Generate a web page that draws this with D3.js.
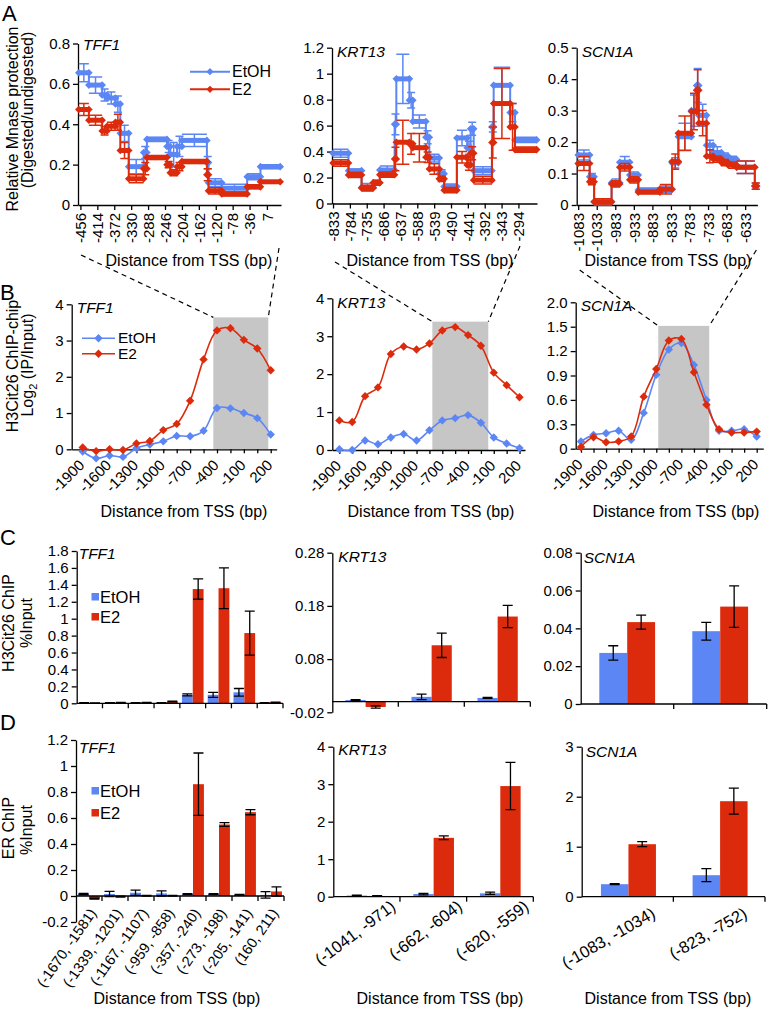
<!DOCTYPE html>
<html><head><meta charset="utf-8">
<script src="https://cdn.jsdelivr.net/npm/d3@7"></script>
<style>
body{margin:0;background:#fff;}
svg{display:block;}
</style></head><body>
<svg id="fig" width="768" height="1012"></svg>
<script>
// ================= DATA =================
const seriesNames = ["EtOH", "E2"];

// Panel A: MNase protection, step segments [startBp, endBp, value, error]
const aTFF1Ticks = [-456,-414,-372,-330,-288,-246,-204,-162,-120,-78,-36,7];
const aTFF1EtOH = [[-460,-435,0.655,0.045],[-435,-402,0.594,0.04],[-402,-390,0.545,0.03],[-390,-369,0.53,0.03],[-369,-357,0.50,0.04],[-357,-336,0.355,0.04],[-336,-299,0.19,0.035],[-299,-291,0.26,0.03],[-291,-241,0.325,0.01],[-241,-233,0.29,0.03],[-233,-216,0.25,0.06],[-216,-204,0.29,0.05],[-204,-142,0.32,0.03],[-142,-138,0.21,0.03],[-138,-105,0.11,0.02],[-105,-42,0.083,0.02],[-42,-9,0.14,0.015],[-9,40,0.19,0.01]];
const aTFF1E2 = [[-460,-435,0.473,0.03],[-435,-402,0.42,0.025],[-402,-390,0.367,0.02],[-390,-369,0.39,0.02],[-369,-357,0.41,0.04],[-357,-336,0.27,0.04],[-336,-299,0.13,0.02],[-299,-291,0.18,0.03],[-291,-241,0.235,0.01],[-241,-233,0.20,0.015],[-233,-216,0.16,0.015],[-216,-204,0.19,0.02],[-204,-142,0.215,0.01],[-142,-138,0.15,0.03],[-138,-105,0.07,0.015],[-105,-42,0.055,0.01],[-42,-9,0.09,0.01],[-9,40,0.115,0.005]];
const aKRT13Ticks = [-833,-784,-735,-686,-637,-588,-539,-490,-441,-392,-343,-294];
const aKRT13EtOH = [[-833,-788,0.387,0.03],[-788,-750,0.253,0.01],[-750,-716,0.124,0.03],[-716,-697,0.16,0.02],[-697,-654,0.258,0.03],[-654,-649,0.61,0.08],[-649,-611,0.96,0.19],[-611,-601,0.795,0.06],[-601,-563,0.632,0.05],[-563,-553,0.51,0.05],[-553,-524,0.35,0.03],[-524,-510,0.23,0.03],[-510,-473,0.13,0.02],[-473,-443,0.505,0.06],[-443,-433,0.43,0.05],[-433,-424,0.575,0.05],[-424,-371,0.253,0.03],[-371,-366,0.59,0.04],[-366,-318,0.91,0.14],[-318,-304,0.70,0.07],[-304,-241,0.49,0.02]];
const aKRT13E2 = [[-833,-788,0.312,0.025],[-788,-750,0.22,0.02],[-750,-716,0.12,0.02],[-716,-697,0.16,0.02],[-697,-654,0.222,0.02],[-654,-649,0.343,0.09],[-649,-611,0.472,0.17],[-611,-601,0.46,0.08],[-601,-563,0.43,0.11],[-563,-553,0.356,0.04],[-553,-524,0.266,0.04],[-524,-510,0.19,0.02],[-510,-473,0.103,0.02],[-473,-443,0.356,0.045],[-443,-433,0.297,0.04],[-433,-424,0.387,0.05],[-424,-371,0.18,0.03],[-371,-366,0.47,0.12],[-366,-318,0.77,0.27],[-318,-304,0.59,0.18],[-304,-241,0.415,0.02]];
const aSCN1ATicks = [-1083,-1033,-983,-933,-883,-833,-783,-733,-683,-633];
const aSCN1AEtOH = [[-1083,-1052,0.159,0.016],[-1052,-1040,0.09,0.01],[-1040,-993,0.01,0.01],[-993,-971,0.071,0.012],[-971,-944,0.136,0.018],[-944,-921,0.095,0.01],[-921,-863,0.048,0.005],[-863,-830,0.05,0.01],[-830,-813,0.134,0.016],[-813,-778,0.217,0.043],[-778,-764,0.30,0.05],[-764,-758,0.38,0.054],[-758,-737,0.285,0.035],[-737,-719,0.19,0.016],[-719,-697,0.167,0.018],[-697,-679,0.155,0.01],[-679,-656,0.145,0.01],[-656,-607,0.12,0.02],[-607,-602,0.06,0.01]];
const aSCN1AE2 = [[-1083,-1052,0.132,0.022],[-1052,-1040,0.074,0.01],[-1040,-993,0.01,0.01],[-993,-971,0.067,0.01],[-971,-944,0.12,0.012],[-944,-921,0.08,0.01],[-921,-863,0.041,0.005],[-863,-830,0.05,0.015],[-830,-813,0.138,0.024],[-813,-778,0.228,0.055],[-778,-764,0.297,0.058],[-764,-758,0.365,0.065],[-758,-737,0.26,0.04],[-737,-719,0.155,0.021],[-719,-697,0.146,0.01],[-697,-679,0.135,0.01],[-679,-656,0.127,0.01],[-656,-607,0.12,0.02],[-607,-602,0.06,0.01]];

// Panel B: H3Cit26 ChIP-chip
const bPositions = [-1900,-1750,-1600,-1450,-1300,-1150,-1000,-850,-700,-550,-400,-250,-100,50,200];
const bTickLabels = [-1900,-1600,-1300,-1000,-700,-400,-100,200];
const bTFF1EtOH = [-0.06,-0.25,-0.17,-0.21,0.03,0.13,0.22,0.37,0.36,0.51,1.14,1.13,1.00,0.86,0.41];
const bTFF1E2 = [0.05,-0.05,0.0,-0.02,0.16,0.23,0.53,0.70,1.34,2.48,3.28,3.34,3.02,2.78,2.18];
const bKRT13EtOH = [0.02,0.0,0.25,0.15,0.33,0.42,0.25,0.52,0.78,0.84,0.92,0.72,0.33,0.17,0.05];
const bKRT13E2 = [0.78,0.74,1.42,1.65,2.53,2.73,2.65,2.81,3.15,3.24,3.03,2.75,2.04,1.71,1.39];
const bSCN1AEtOH = [0.09,0.17,0.19,0.22,0.11,0.44,0.91,1.22,1.30,1.03,0.60,0.22,0.22,0.24,0.15];
const bSCN1AE2 = [0.02,0.14,0.08,0.09,0.15,0.64,0.98,1.33,1.35,0.94,0.54,0.24,0.20,0.20,0.21];
const bTFF1Region = [-441, 173, 3.64];   // [startBp, endBp, top]
const bKRT13Region = [-816, -164, 3.385];
const bSCN1ARegion = [-976, -367, 1.51];
const bSCN1AYTicks = [0,0.3,0.6,0.9,1.2,1.5,1.8];
const bSCN1AYLabels = ["0","0.3","0.6","0.9","1.2","1.5","2.0"];

// Panel C: H3Cit26 ChIP %Input
const tffCats = ["(-1670, -1581)","(-1339, -1201)","(-1167, -1107)","(-959, -858)","(-357, -240)","(-273, -198)","(-205, -141)","(160, 211)"];
const krtCats = ["(-1041, -971)","(-662, -604)","(-620, -559)"];
const scnCats = ["(-1083, -1034)","(-823, -752)"];
const cTFF1EtOH = [0.005,0.005,0.005,0.005,0.10,0.10,0.13,0.005];
const cTFF1EtOHErr = [0.002,0.002,0.002,0.002,0.012,0.03,0.045,0.002];
const cTFF1E2 = [0.004,0.008,0.008,0.02,1.35,1.36,0.83,0.012];
const cTFF1E2Err = [0.002,0.002,0.002,0.004,0.12,0.24,0.26,0.002];
const cKRT13EtOH = [0.003,0.009,0.007];
const cKRT13EtOHErr = [0.001,0.005,0.001];
const cKRT13E2 = [-0.01,0.106,0.16];
const cKRT13E2Err = [0.002,0.023,0.021];
const cSCN1AEtOH = [0.027,0.0385];
const cSCN1AEtOHErr = [0.0038,0.0047];
const cSCN1AE2 = [0.0433,0.0515];
const cSCN1AE2Err = [0.0037,0.011];

// Panel D: ER ChIP %Input
const dTFF1EtOH = [0.015,0.015,0.025,0.02,0.015,0.015,0.01,0.008];
const dTFF1EtOHErr = [0.005,0.02,0.02,0.02,0.003,0.003,0.003,0.025];
const dTFF1E2 = [-0.02,-0.005,0.002,0.002,0.86,0.55,0.645,0.035];
const dTFF1E2Err = [0.003,0.003,0.002,0.002,0.24,0.015,0.02,0.035];
const dKRT13EtOH = [0.03,0.07,0.09];
const dKRT13EtOHErr = [0.01,0.02,0.03];
const dKRT13E2 = [0.02,1.57,2.95];
const dKRT13E2Err = [0.01,0.05,0.63];
const dSCN1AEtOH = [0.25,0.43];
const dSCN1AEtOHErr = [0.01,0.13];
const dSCN1AE2 = [1.05,1.91];
const dSCN1AE2Err = [0.05,0.26];

// ================= DRAWING =================
const BLUE = "#5b86f4", RED = "#dc2b0c", GRAY = "#c6c6c6";
const FONT = '"Liberation Sans", Arial, Helvetica, sans-serif';
const TICK_FS = 15, TITLE_FS = 16, GENE_FS = 15.5, LEG_FS = 16.5;
const svg = d3.select("#fig");
svg.append("rect").attr("width", 768).attr("height", 1012).attr("fill", "#fff");

function diamond(r){ return `M0,${-r}L${r},0L0,${r}L${-r},0Z`; }

function txt(g, x, y, s, o = {}){
  const t = g.append("text").attr("x", x).attr("y", y).text(s)
    .style("font-family", FONT).style("font-size", (o.fs || TITLE_FS) + "px").attr("fill", "#000");
  if (o.anchor) t.attr("text-anchor", o.anchor);
  if (o.italic) t.style("font-style", "italic");
  if (o.rotate) t.attr("transform", `rotate(${o.rotate},${x},${y})`);
  return t;
}

function styleAxis(a, fs){
  a.attr("font-family", null).attr("font-size", null);
  a.select(".domain").attr("stroke", "#000").attr("stroke-width", 1.3);
  a.selectAll(".tick line").attr("stroke", "#000").attr("stroke-width", 1.3);
  a.selectAll(".tick text").attr("fill", "#000").style("font-family", FONT).style("font-size", fs + "px");
}

function yAxis(g, y, x0, ticks, labels){
  const ax = d3.axisLeft(y).tickValues(ticks).tickSize(5).tickSizeOuter(0).tickPadding(3)
    .tickFormat((d, i) => labels ? labels[i] : String(d));
  const a = g.append("g").attr("transform", `translate(${x0},0)`).call(ax);
  styleAxis(a, TICK_FS);
  return a;
}

// ---------- Panel A ----------
function stepPanel(cfg){
  const g = svg.append("g");
  const x = d3.scaleLinear().domain(cfg.xDomain).range(cfg.xRange);
  const y = d3.scaleLinear().domain(cfg.yDomain).range(cfg.yRange);
  yAxis(g, y, cfg.xRange[0], cfg.yTicks);
  const xa = g.append("g").attr("transform", `translate(0,${y(0)})`)
    .call(d3.axisBottom(x).tickValues(cfg.xTicks).tickSize(5).tickSizeOuter(0).tickFormat(d => String(d)));
  styleAxis(xa, TICK_FS);
  xa.selectAll(".tick text").attr("text-anchor", "end").attr("transform", "rotate(-90)")
    .attr("x", -8).attr("y", 0).attr("dy", "0.35em");
  cfg.series.forEach(s => {
    const sg = g.append("g").attr("stroke", s.color).attr("fill", s.color);
    sg.selectAll(".eb").data(s.data).join("path")
      .attr("fill", "none").attr("stroke-width", 1.5)
      .attr("d", d => {
        const xm = (x(d[0]) + x(d[1])) / 2;
        const x0 = Math.min(x(d[0]), xm - 4), x1 = Math.max(x(d[1]), xm + 4);
        const yt = y(d[2] + d[3]), yb = y(d[2] - d[3]);
        return `M${xm},${yb}V${yt}M${x0},${yt}H${x1}M${x0},${yb}H${x1}`;
      });
    sg.selectAll(".cn").data(s.data.slice(1)).join("line")
      .attr("x1", d => x(d[0])).attr("x2", d => x(d[0]))
      .attr("y1", (d, i) => y(s.data[i][2])).attr("y2", d => y(d[2]))
      .attr("stroke-width", 2);
    sg.selectAll(".seg").data(s.data).join("line")
      .attr("x1", d => x(d[0])).attr("x2", d => x(d[1]))
      .attr("y1", d => y(d[2])).attr("y2", d => y(d[2]))
      .attr("stroke-width", 5);
    const ends = s.data.flatMap(d => [[d[0], d[2]], [d[1], d[2]]]);
    sg.selectAll(".mk").data(ends).join("path")
      .attr("d", diamond(3.8)).attr("stroke", "none")
      .attr("transform", d => `translate(${x(d[0])},${y(d[1])})`);
  });
  txt(g, cfg.xRange[0] + 5, cfg.geneY, cfg.gene, {fs: GENE_FS, italic: true});
  txt(g, cfg.titleX, 266, "Distance from TSS (bp)", {anchor: "middle"});
  return {x, y};
}

const aT = stepPanel({xDomain: [-462, 42], xRange: [78, 281], yDomain: [0, 0.8], yRange: [205, 43.5],
  yTicks: [0,0.2,0.4,0.6,0.8], xTicks: aTFF1Ticks, gene: "TFF1", geneY: 50, titleX: 189,
  series: [{data: aTFF1EtOH, color: BLUE}, {data: aTFF1E2, color: RED}]});
const aK = stepPanel({xDomain: [-836, -240], xRange: [332, 537], yDomain: [0, 1.2], yRange: [203.5, 47.7],
  yTicks: [0,0.2,0.4,0.6,0.8,1,1.2], xTicks: aKRT13Ticks, gene: "KRT13", geneY: 57, titleX: 430,
  series: [{data: aKRT13EtOH, color: BLUE}, {data: aKRT13E2, color: RED}]});
const aS = stepPanel({xDomain: [-1087, -600], xRange: [576.7, 757.4], yDomain: [0, 0.5], yRange: [205, 47.7],
  yTicks: [0,0.1,0.2,0.3,0.4,0.5], xTicks: aSCN1ATicks, gene: "SCN1A", geneY: 57, titleX: 668,
  series: [{data: aSCN1AEtOH, color: BLUE}, {data: aSCN1AE2, color: RED}]});

// legend A
{
  const lg = svg.append("g");
  [[BLUE, 71.7, 76], [RED, 89.3, 94]].forEach((c, i) => {
    lg.append("line").attr("x1", 190).attr("x2", 230).attr("y1", c[1]).attr("y2", c[1]).attr("stroke", c[0]).attr("stroke-width", 2);
    lg.append("path").attr("d", diamond(3.6)).attr("fill", c[0]).attr("transform", `translate(210,${c[1]})`);
    txt(lg, 232, c[2] + 1, seriesNames[i], {fs: 16});
  });
}
txt(svg, 17.5, 119, "Relative Mnase protection", {anchor: "middle", rotate: -90});
txt(svg, 32.5, 110, "(Digested/undigested)", {anchor: "middle", rotate: -90});
txt(svg, 2, 21, "A", {fs: 22});

// ---------- Panel B ----------
function linePanel(cfg){
  const g = svg.append("g");
  const x = d3.scaleLinear().domain(cfg.xDomain).range(cfg.xRange);
  const y = d3.scaleLinear().domain(cfg.yDomain).range(cfg.yRange);
  const r = cfg.region;
  g.append("rect").attr("x", x(r[0])).attr("width", x(r[1]) - x(r[0]))
    .attr("y", y(r[2])).attr("height", y(0) - y(r[2])).attr("fill", GRAY);
  yAxis(g, y, cfg.xRange[0], cfg.yTicks, cfg.yLabels);
  const xa = g.append("g").attr("transform", `translate(0,${y(0)})`)
    .call(d3.axisBottom(x).tickValues(bPositions).tickSize(4).tickSizeOuter(0).tickFormat(() => ""));
  styleAxis(xa, TICK_FS);
  g.selectAll(".xl").data(bTickLabels).join("text")
    .attr("transform", d => `translate(${x(d) - 1},${y(0) + 13}) rotate(-45)`)
    .attr("text-anchor", "end").attr("dy", "0.35em")
    .style("font-family", FONT).style("font-size", TICK_FS + "px").text(d => String(d));
  const line = d3.line().x((d, i) => x(bPositions[i])).y(d => y(d)).curve(d3.curveCatmullRom.alpha(0.5));
  cfg.series.forEach(s => {
    g.append("path").datum(s.data).attr("d", line).attr("fill", "none").attr("stroke", s.color).attr("stroke-width", 1.6);
    g.selectAll(null).data(s.data).join("path").attr("d", diamond(4.2)).attr("fill", s.color)
      .attr("transform", (d, i) => `translate(${x(bPositions[i])},${y(d)})`);
  });
  txt(g, cfg.xRange[0] + 5, cfg.geneY, cfg.gene, {fs: GENE_FS, italic: true});
  txt(g, cfg.titleX, 517, "Distance from TSS (bp)", {anchor: "middle"});
  return {x, y};
}

const bT = linePanel({xDomain: [-2023, 267], xRange: [71.7, 276.7], yDomain: [0, 4], yRange: [449.3, 304.3],
  yTicks: [0,1,2,3,4], region: bTFF1Region, gene: "TFF1", geneY: 313, titleX: 184,
  series: [{data: bTFF1EtOH, color: BLUE}, {data: bTFF1E2, color: RED}]});
const bK = linePanel({xDomain: [-1982, 264], xRange: [332.3, 525], yDomain: [0, 4], yRange: [450, 298.3],
  yTicks: [0,1,2,3,4], region: bKRT13Region, gene: "KRT13", geneY: 308, titleX: 431,
  series: [{data: bKRT13EtOH, color: BLUE}, {data: bKRT13E2, color: RED}]});
const bS = linePanel({xDomain: [-1963, 279], xRange: [575.7, 763.3], yDomain: [0, 1.8], yRange: [448.7, 302.3],
  yTicks: bSCN1AYTicks, yLabels: bSCN1AYLabels, region: bSCN1ARegion, gene: "SCN1A", geneY: 311, titleX: 676,
  series: [{data: bSCN1AEtOH, color: BLUE}, {data: bSCN1AE2, color: RED}]});

// legend B
{
  const lg = svg.append("g");
  [[BLUE, 338.3], [RED, 353.8]].forEach((c, i) => {
    lg.append("line").attr("x1", 82).attr("x2", 115).attr("y1", c[1]).attr("y2", c[1]).attr("stroke", c[0]).attr("stroke-width", 1.6);
    lg.append("path").attr("d", diamond(4.2)).attr("fill", c[0]).attr("transform", `translate(98.5,${c[1]})`);
    txt(lg, 118, c[1] + 5, seriesNames[i], {fs: 15.5});
  });
}
{
  txt(svg, 18, 366, "H3Cit26 ChIP-chip", {anchor: "middle", rotate: -90});
  const t = txt(svg, 33, 365, "", {anchor: "middle", rotate: -90});
  t.append("tspan").text("Log");
  t.append("tspan").text("2").attr("dy", 4).style("font-size", "11px");
  t.append("tspan").text(" (IP/Input)").attr("dy", -4);
}
txt(svg, 0, 300, "B", {fs: 22});

// dashed connectors from A ranges to B shaded regions
{
  const dg = svg.append("g").attr("stroke", "#000").attr("stroke-width", 1.2).attr("stroke-dasharray", "5,4").attr("fill", "none");
  const conn = [
    [aT.x.range()[0] + 3, 255, bT.x(bTFF1Region[0]), bT.y(bTFF1Region[2])],
    [aT.x.range()[1] - 2, 248, bT.x(bTFF1Region[1]), bT.y(bTFF1Region[2])],
    [aK.x.range()[0] + 3, 262, bK.x(bKRT13Region[0]), bK.y(bKRT13Region[2])],
    [aK.x.range()[1] - 17, 246, bK.x(bKRT13Region[1]), bK.y(bKRT13Region[2])],
    [aS.x.range()[0] + 3, 270, bS.x(bSCN1ARegion[0]), bS.y(bSCN1ARegion[2])],
    [aS.x.range()[1] - 1, 250, bS.x(bSCN1ARegion[1]), bS.y(bSCN1ARegion[2])]
  ];
  conn.forEach(c => dg.append("line").attr("x1", c[0]).attr("y1", c[1]).attr("x2", c[2]).attr("y2", c[3]));
}

// ---------- Panels C, D ----------
function barPanel(cfg){
  const g = svg.append("g");
  const x = d3.scaleBand().domain(cfg.cats).range(cfg.xRange);
  const bw = x.bandwidth();
  const y = d3.scaleLinear().domain(cfg.yDomain).range(cfg.yRange);
  const sets = [
    {v: cfg.etoh, e: cfg.etohErr, color: BLUE, off: cfg.off},
    {v: cfg.e2, e: cfg.e2Err, color: RED, off: cfg.off + cfg.w}
  ];
  sets.forEach(s => {
    g.selectAll(null).data(cfg.cats).join("rect")
      .attr("x", c => x(c) + s.off * bw).attr("width", cfg.w * bw)
      .attr("y", (c, i) => y(Math.max(0, s.v[i])))
      .attr("height", (c, i) => Math.abs(y(s.v[i]) - y(0)))
      .attr("fill", s.color);
  });
  const cap = Math.min(10, cfg.w * bw);
  sets.forEach(s => {
    g.selectAll(null).data(cfg.cats).join("path")
      .attr("fill", "none").attr("stroke", "#000").attr("stroke-width", 1.3)
      .attr("d", (c, i) => {
        const cx = x(c) + (s.off + cfg.w / 2) * bw;
        const yt = y(s.v[i] + s.e[i]), yb = y(s.v[i] - s.e[i]);
        return `M${cx},${yb}V${yt}M${cx - cap / 2},${yt}H${cx + cap / 2}M${cx - cap / 2},${yb}H${cx + cap / 2}`;
      });
  });
  yAxis(g, y, cfg.xRange[0], cfg.yTicks, cfg.yLabels);
  const y0 = y(0);
  g.append("line").attr("x1", cfg.xRange[0]).attr("x2", cfg.xRange[1]).attr("y1", y0).attr("y2", y0)
    .attr("stroke", "#000").attr("stroke-width", 1.3);
  g.selectAll(null).data(cfg.cats).join("line")
    .attr("x1", c => x(c) + bw).attr("x2", c => x(c) + bw).attr("y1", y0).attr("y2", y0 + 5)
    .attr("stroke", "#000").attr("stroke-width", 1.3);
  if (cfg.labels){
    const L = cfg.labels;
    g.selectAll(null).data(cfg.cats).join("text")
      .attr("transform", c => `translate(${x(c) + bw / 2 + L.dx},${y0 + L.dy}) rotate(${L.angle})`)
      .attr("text-anchor", "end")
      .style("font-family", FONT).style("font-size", L.fs + "px").text(c => c);
    txt(g, cfg.titleX, 1004, "Distance from TSS (bp)", {anchor: "middle"});
  }
  txt(g, cfg.xRange[0] + cfg.geneDx, cfg.geneY, cfg.gene, {fs: GENE_FS, italic: true});
  return {x, y};
}

barPanel({cats: tffCats, xRange: [76.7, 283], yDomain: [0, 1.8], yRange: [703.3, 551],
  yTicks: [0,0.2,0.4,0.6,0.8,1,1.2,1.4,1.6,1.8], off: 0.08, w: 0.42,
  etoh: cTFF1EtOH, etohErr: cTFF1EtOHErr, e2: cTFF1E2, e2Err: cTFF1E2Err,
  gene: "TFF1", geneDx: 2, geneY: 559});
barPanel({cats: krtCats, xRange: [332.3, 530.3], yDomain: [-0.02, 0.28], yRange: [712.3, 552.7],
  yTicks: [-0.02,0.08,0.18,0.28], off: 0.2, w: 0.305,
  etoh: cKRT13EtOH, etohErr: cKRT13EtOHErr, e2: cKRT13E2, e2Err: cKRT13E2Err,
  gene: "KRT13", geneDx: 6, geneY: 562});
barPanel({cats: scnCats, xRange: [580.7, 766.7], yDomain: [0, 0.08], yRange: [704, 552.7],
  yTicks: [0,0.02,0.04,0.06,0.08], off: 0.2, w: 0.3,
  etoh: cSCN1AEtOH, etohErr: cSCN1AEtOHErr, e2: cSCN1AE2, e2Err: cSCN1AE2Err,
  gene: "SCN1A", geneDx: 3, geneY: 563});

barPanel({cats: tffCats, xRange: [76, 284], yDomain: [-0.2, 1.2], yRange: [922, 740],
  yTicks: [-0.2,0,0.2,0.4,0.6,0.8,1,1.2], off: 0.08, w: 0.42,
  etoh: dTFF1EtOH, etohErr: dTFF1EtOHErr, e2: dTFF1E2, e2Err: dTFF1E2Err,
  gene: "TFF1", geneDx: 3, geneY: 753, titleX: 177,
  labels: {angle: -55, dx: 8, dy: 17, fs: 14.5}});
barPanel({cats: krtCats, xRange: [333.3, 533.3], yDomain: [0, 4], yRange: [896.7, 746.7],
  yTicks: [0,1,2,3,4], off: 0.2, w: 0.305,
  etoh: dKRT13EtOH, etohErr: dKRT13EtOHErr, e2: dKRT13E2, e2Err: dKRT13E2Err,
  gene: "KRT13", geneDx: 5, geneY: 755, titleX: 440,
  labels: {angle: -37, dx: 30, dy: 12, fs: 16.5}});
barPanel({cats: scnCats, xRange: [581.7, 765], yDomain: [0, 3], yRange: [896.7, 746.7],
  yTicks: [0,1,2,3], off: 0.21, w: 0.3,
  etoh: dSCN1AEtOH, etohErr: dSCN1AEtOHErr, e2: dSCN1AE2, e2Err: dSCN1AE2Err,
  gene: "SCN1A", geneDx: 4, geneY: 757, titleX: 668,
  labels: {angle: -30, dx: 29, dy: 20, fs: 16.5}});

// legends C and D
[[600, 620], [794, 816]].forEach(pos => {
  const lg = svg.append("g");
  [BLUE, RED].forEach((c, i) => {
    lg.append("rect").attr("x", 91.5).attr("y", pos[i] - 7).attr("width", 7.5).attr("height", 7.5).attr("fill", c);
    txt(lg, 100, pos[i] + 3, seriesNames[i], {fs: LEG_FS});
  });
});
txt(svg, 14, 623, "H3Cit26 ChIP", {anchor: "middle", rotate: -90});
txt(svg, 32, 623, "%Input", {anchor: "middle", rotate: -90});
txt(svg, 14, 828, "ER ChIP", {anchor: "middle", rotate: -90});
txt(svg, 32, 830, "%Input", {anchor: "middle", rotate: -90});
txt(svg, 0, 545, "C", {fs: 22});
txt(svg, 0, 730, "D", {fs: 22});
</script></body></html>
